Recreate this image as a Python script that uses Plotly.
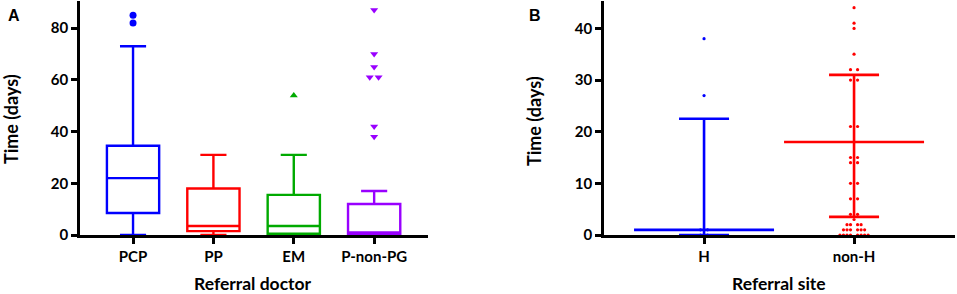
import plotly.graph_objects as go
from collections import Counter

# ---------------- Data: panel A (Referral doctor) ----------------
doctors = ["PCP", "PP", "EM", "P-non-PG"]
colors_a = ["#0000FF", "#FF0000", "#00AA00", "#9900FF"]
q1_a = [8.5, 1.5, 0.5, 0.5]
median_a = [22, 3.5, 3.5, 1]
q3_a = [34.5, 18, 15.5, 12]
low_a = [0, 0, 0, 0]
high_a = [73, 31, 31, 17]
outliers_a = {
    "PCP": [85, 82],
    "PP": [],
    "EM": [54],
    "P-non-PG": [87, 70, 65, 61, 61, 42, 38],
}
outlier_symbols = {"PCP": "circle", "PP": "square", "EM": "triangle-up", "P-non-PG": "triangle-down"}

# ---------------- Data: panel B (Referral site) ----------------
sites = ["H", "non-H"]
colors_b = ["#0000FF", "#FF0000"]
median_b = [1, 18]
low_b = [0, 3.5]
high_b = [22.5, 31]
points_b = {
    "H": [38, 27, 1, 1, 0, 0],
    "non-H": [44, 41, 40, 35, 32, 32, 30, 30, 21, 21, 15, 15, 14, 14, 10, 10, 7, 7,
              4, 4, 3, 2, 2, 2, 2, 1, 1, 1, 1, 1, 1, 0, 0, 0, 0, 0, 0, 0, 0],
}

FONT = "Lato"

def swarm_offsets(values, step):
    """Spread duplicate values side by side around the category centre
    (odd counts use the centre slot, even counts skip it)."""
    counts = Counter(values)
    seen = Counter()
    offs = []
    for v in values:
        n = counts[v]
        i = seen[v]
        seen[v] += 1
        if n % 2 == 1:
            k = (i + 1) // 2
            sign = -1 if i % 2 == 1 else 1
        else:
            k = i // 2 + 1
            sign = -1 if i % 2 == 0 else 1
        offs.append(sign * k * step)
    return offs

fig = go.Figure()

# ---- Panel A boxes ----
for i, d in enumerate(doctors):
    fig.add_trace(go.Box(
        x=[i], q1=[q1_a[i]], median=[median_a[i]], q3=[q3_a[i]],
        lowerfence=[low_a[i]], upperfence=[high_a[i]],
        width=0.65, whiskerwidth=0.5,
        line=dict(color=colors_a[i], width=2.4),
        fillcolor="rgba(255,255,255,0)",
        boxpoints=False, showlegend=False, hoverinfo="skip",
        xaxis="x", yaxis="y",
    ))
    vals = outliers_a[d]
    if vals:
        offs = swarm_offsets(vals, 0.055)
        fig.add_trace(go.Scatter(
            x=[i + o for o in offs], y=vals, mode="markers",
            marker=dict(symbol=outlier_symbols[d], color=colors_a[i], size=7,
                        line=dict(width=0)),
            showlegend=False, hoverinfo="skip", xaxis="x", yaxis="y",
        ))

# ---- Panel B: dots, whiskers, median ----
for i, s in enumerate(sites):
    vals = points_b[s]
    offs = swarm_offsets(vals, 0.0235)
    fig.add_trace(go.Scatter(
        x=[i + o for o in offs], y=vals, mode="markers",
        marker=dict(symbol="circle", color=colors_b[i], size=3.2, line=dict(width=0)),
        showlegend=False, hoverinfo="skip", xaxis="x2", yaxis="y2",
    ))
    fig.add_trace(go.Scatter(
        x=[i], y=[median_b[i]], mode="markers",
        marker=dict(symbol="line-ew", size=100, color=colors_b[i],
                    line=dict(color=colors_b[i], width=2.6)),
        error_y=dict(type="data", symmetric=False,
                     array=[high_b[i] - median_b[i]],
                     arrayminus=[median_b[i] - low_b[i]],
                     color=colors_b[i], thickness=2.6, width=25),
        showlegend=False, hoverinfo="skip", xaxis="x2", yaxis="y2",
    ))

axis_common = dict(showline=True, linecolor="black", linewidth=2.5, mirror=False,
                   showgrid=False, zeroline=False, ticks="outside", tickwidth=2.5,
                   ticklen=6, tickcolor="black",
                   tickfont=dict(family=FONT, size=15, color="black", weight="bold"))

fig.update_layout(
    width=957, height=294,
    margin=dict(l=0, r=0, t=1, b=59),
    paper_bgcolor="white", plot_bgcolor="white",
    font=dict(family=FONT, color="black"),
    xaxis=dict(domain=[80 / 957, 428 / 957], range=[-0.66, 3.67],
               tickmode="array", tickvals=list(range(len(doctors))), ticktext=doctors,
               anchor="y", **axis_common),
    yaxis=dict(domain=[0, 1], range=[0, 90.5], tickmode="array",
               tickvals=[0, 20, 40, 60, 80], anchor="x", **axis_common),
    xaxis2=dict(domain=[604 / 957, 955 / 957], range=[-0.667, 1.673],
                tickmode="array", tickvals=list(range(len(sites))), ticktext=sites,
                anchor="y2", **axis_common),
    yaxis2=dict(domain=[0, 1], range=[0, 45.3], tickmode="array",
                tickvals=[0, 10, 20, 30, 40], anchor="x2", **axis_common),
)

H = 234.0
ann_font = dict(family=FONT, size=18, color="black")
title_font = dict(family=FONT, size=17.5, color="black")
fig.add_annotation(text="<b>Time (days)</b>", xref="paper", yref="paper",
                   x=11 / 957, y=1 - 118 / H, textangle=-90, showarrow=False,
                   font=ann_font, xanchor="center", yanchor="middle")
fig.add_annotation(text="<b>Time (days)</b>", xref="paper", yref="paper",
                   x=534 / 957, y=1 - 120 / H, textangle=-90, showarrow=False,
                   font=ann_font, xanchor="center", yanchor="middle")
fig.add_annotation(text="<b>Referral doctor</b>", xref="paper", yref="paper",
                   x=253 / 957, y=-(294 - H) / H, showarrow=False,
                   font=title_font, xanchor="center", yanchor="bottom", borderpad=0)
fig.add_annotation(text="<b>Referral site</b>", xref="paper", yref="paper",
                   x=779 / 957, y=-(294 - H) / H, showarrow=False,
                   font=title_font, xanchor="center", yanchor="bottom", borderpad=0)
fig.add_annotation(text="<b>A</b>", xref="paper", yref="paper",
                   x=14 / 957, y=1 - 15 / H, showarrow=False,
                   font=dict(family="Liberation Sans", size=16, color="black"),
                   xanchor="center", yanchor="middle")
fig.add_annotation(text="<b>B</b>", xref="paper", yref="paper",
                   x=535 / 957, y=1 - 15 / H, showarrow=False,
                   font=dict(family="Liberation Sans", size=16, color="black"),
                   xanchor="center", yanchor="middle")

fig.write_html("out.html", config={"displayModeBar": False},
               post_script="document.body.style.margin='0';document.body.style.overflow='hidden';")
